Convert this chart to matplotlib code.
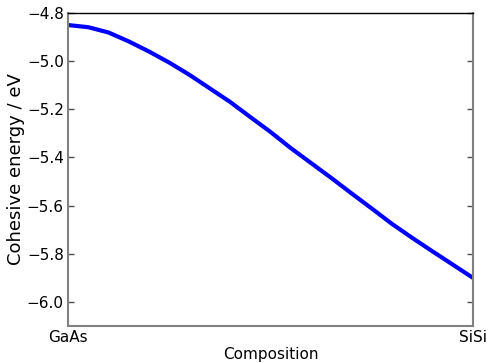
import numpy as np
import matplotlib
matplotlib.use('Agg')
import matplotlib.pyplot as plt

# composition fraction from GaAs (0) to SiSi (1)
composition = np.linspace(0, 1, 21)
cohesive_energy = [-4.850, -4.859, -4.881, -4.918, -4.960, -5.006, -5.057, -5.113,
                   -5.169, -5.232, -5.294, -5.361, -5.423, -5.485, -5.549, -5.612,
                   -5.676, -5.734, -5.790, -5.845, -5.900]
end_labels = ['GaAs', 'SiSi']
yticks = [-6.0, -5.8, -5.6, -5.4, -5.2, -5.0, -4.8]

fig = plt.figure(figsize=(4.91, 3.63), dpi=100)
ax = fig.add_axes([0.1385, 0.1019, 0.8248, 0.8623])
ax.plot(composition, cohesive_energy, color='blue', linewidth=3)

ax.set_xlim(0, 1)
ax.set_ylim(-6.1, -4.8)
ax.set_xticks([0, 1])
ax.set_xticklabels(end_labels)
ax.set_yticks(yticks)
ax.set_yticklabels([('%.1f' % v).replace('-', '\u2212') for v in yticks])
ax.tick_params(axis='x', length=0, labelsize=11, pad=3)
ax.tick_params(axis='y', direction='in', length=4, width=1, labelsize=11,
               right=True, left=True, color='0.3', pad=3)
ax.set_xlabel('Composition', fontsize=11, labelpad=1)
ax.set_ylabel('Cohesive energy / eV', fontsize=13, labelpad=1)

for side in ['left', 'bottom', 'right']:
    ax.spines[side].set_color('0.5')
    ax.spines[side].set_linewidth(1.5)
ax.spines['top'].set_color('black')
ax.spines['top'].set_linewidth(1)

fig.savefig('out.png', dpi=100)
